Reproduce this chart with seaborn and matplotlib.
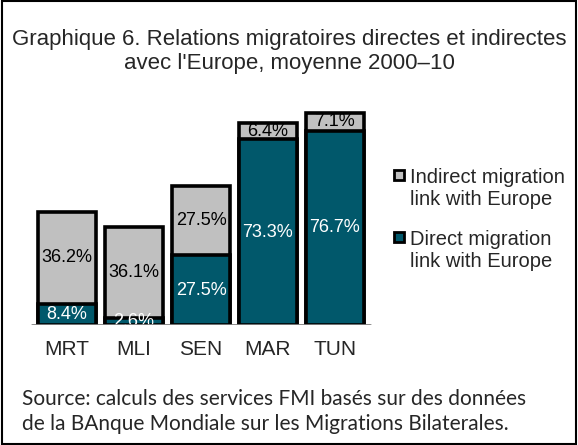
import pandas as pd
import matplotlib
matplotlib.use("Agg")
import matplotlib.pyplot as plt
import seaborn as sns
from matplotlib.patches import Rectangle, Patch
from matplotlib.legend_handler import HandlerPatch

# donnees
pays = ["MRT", "MLI", "SEN", "MAR", "TUN"]
direct = [8.4, 2.6, 27.5, 73.3, 76.7]
indirect = [36.2, 36.1, 27.5, 6.4, 7.1]

teal = "#01586B"
gris = "#C0C0C0"

df = pd.DataFrame({"pays": pays, "direct": direct, "indirect": indirect})
df["total"] = df["direct"] + df["indirect"]

sns.set_style("white")
plt.rcParams["font.family"] = ["Liberation Sans", "DejaVu Sans"]

fig = plt.figure(figsize=(5.78, 4.45), dpi=100)
ax = fig.add_axes([27 / 578, 1 - 325 / 445, 348 / 578, 228 / 445])

# barres empilees: total en gris puis direct en bleu par-dessus
sns.barplot(data=df, x="pays", y="total", color=gris, edgecolor="black",
            linewidth=2.6, width=0.86, saturation=1, ax=ax)
sns.barplot(data=df, x="pays", y="direct", color=teal, edgecolor="black",
            linewidth=2.6, width=0.86, saturation=1, ax=ax)

for i, row in df.iterrows():
    ax.text(i, row["direct"] / 2, f"{row['direct']:.1f}%", ha="center", va="center",
            color="white", fontsize=13)
    ax.text(i, row["direct"] + row["indirect"] / 2, f"{row['indirect']:.1f}%",
            ha="center", va="center", color="black", fontsize=13)

ax.axhline(0, color="#808080", lw=2, zorder=5, xmin=0.015, xmax=0.985)
ax.set_xlim(-0.6, 4.6)
ax.set_ylim(0, 90)
ax.set_xlabel("")
ax.set_ylabel("")
ax.set_yticks([])
ax.tick_params(axis="x", length=0, labelsize=15, pad=11)
sns.despine(ax=ax, left=True, bottom=True)


# petit carre aligne sur la premiere ligne du texte
def carre_haut(legend, orig_handle, xdescent, ydescent, width, height, fontsize):
    s = 0.5 * fontsize
    return Rectangle((-xdescent, -ydescent + height - s + 0.25 * fontsize), s, s)


handles = [Patch(facecolor=gris, edgecolor="black", linewidth=2),
           Patch(facecolor=teal, edgecolor="black", linewidth=2)]
labels = ["Indirect migration\nlink with Europe", "Direct migration\nlink with Europe"]
fig.legend(handles, labels, loc="upper left", bbox_to_anchor=(376 / 578, 1 - 150 / 445),
           frameon=False, fontsize=14.5, handlelength=0.5, handleheight=1.9,
           handletextpad=0.3, labelspacing=1.05,
           handler_map={Patch: HandlerPatch(patch_func=carre_haut)})

fig.text(0.5, 1 - 40 / 445, "Graphique 6. Relations migratoires directes et indirectes",
         ha="center", va="center", fontsize=16)
fig.text(0.5, 1 - 63 / 445, "avec l'Europe, moyenne 2000\u201310",
         ha="center", va="center", fontsize=16)

fig.text(22 / 578, 1 - 399 / 445, "Source: calculs des services FMI basés sur des données",
         ha="left", va="center", fontsize=15, family=["Lato", "DejaVu Sans"])
fig.text(22 / 578, 1 - 424 / 445, "de la BAnque Mondiale sur les Migrations Bilaterales.",
         ha="left", va="center", fontsize=15, family=["Lato", "DejaVu Sans"])

fig.patches.append(Rectangle((0.003, 0.003), 0.994, 0.994, transform=fig.transFigure,
                             fill=False, edgecolor="black", linewidth=1.5))

fig.savefig("out.png", dpi=100)
